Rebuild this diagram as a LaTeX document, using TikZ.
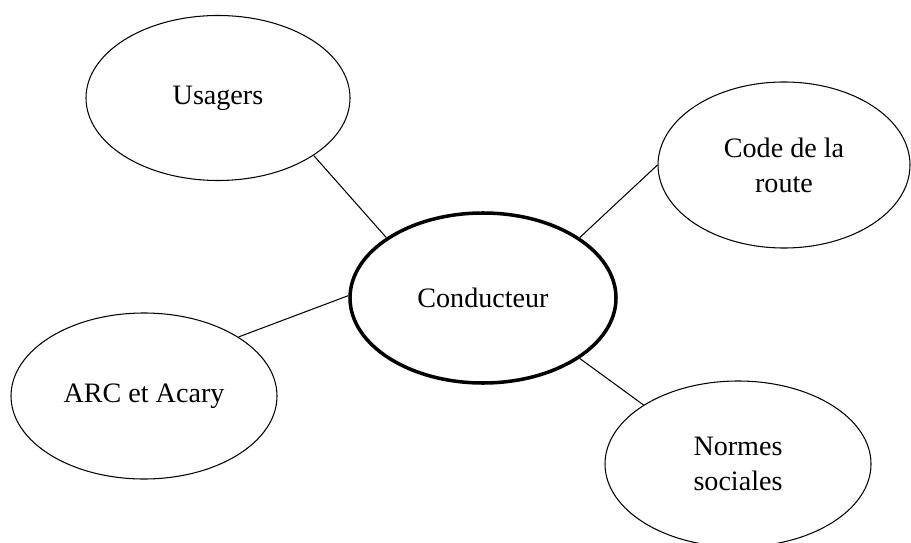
\documentclass[tikz,border=0pt]{standalone}
\usepackage{fontspec}
\setmainfont{Liberation Serif}
\usetikzlibrary{shapes.geometric}
\tikzset{
	bulle/.style={ellipse, draw, line width=0.6pt, inner sep=0pt, align=center, font=\fontsize{16}{20}\selectfont},
	lien/.style={line width=0.6pt}
}
\begin{document}
\begin{tikzpicture}
			\useasboundingbox (0,0) rectangle (18.22,-10.86);
			\node[bulle, minimum width=5.28cm, minimum height=3.3cm] (usagers) at (4.36,-1.96) {Usagers};
			\node[bulle, minimum width=5.04cm, minimum height=3.32cm] (code) at (15.68,-3.3) {Code de la\\route};
			\node[bulle, line width=2pt, minimum width=5.32cm, minimum height=3.4cm] (cond) at (9.66,-5.96) {Conducteur};
			\node[bulle, minimum width=5.32cm, minimum height=3.32cm] (arc) at (2.88,-7.92) {ARC et Acary};
			\node[bulle, minimum width=5.32cm, minimum height=3.32cm] (normes) at (14.76,-9.28) {Normes\\sociales};
		
			\draw[lien] (usagers.-31) -- (cond.148);
			\draw[lien] (code.180) -- (cond.32);
			\draw[lien] (arc.32) -- (cond.179);
			\draw[lien] (normes.148) -- (cond.-32);
		\end{tikzpicture}
\end{document}
